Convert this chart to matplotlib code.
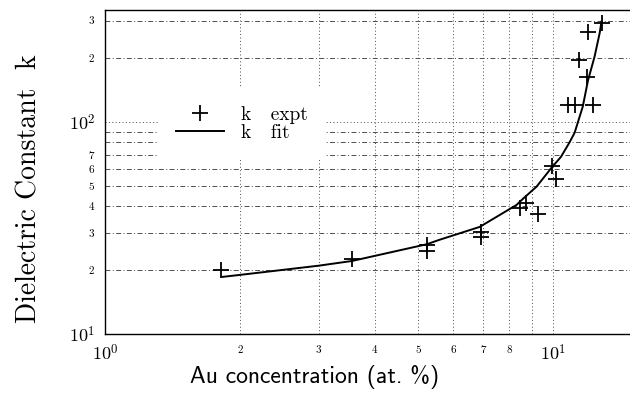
import matplotlib
matplotlib.use("Agg")
import matplotlib.pyplot as plt
from matplotlib.ticker import FixedLocator, FixedFormatter

plt.rcParams['mathtext.fontset'] = 'cm'

# experimental points (Au at.% , k)
exp_x = [1.82, 3.56, 5.23, 5.23, 6.93, 6.93, 8.47, 8.7, 9.25, 9.96, 10.19,
         10.82, 11.2, 12.27, 11.9, 11.45, 11.99, 12.89]
exp_y = [20.0, 22.6, 26.3, 24.7, 30.4, 28.6, 39.2, 41.4, 36.8, 62.2, 53.8,
         120, 120, 120, 162, 196, 266, 294]

# fitted curve
fit_x = [1.83, 2.0, 3.0, 3.56, 5.23, 5.58, 6.87, 8.3, 8.6, 9.2, 9.95, 10.43,
         10.87, 11.19, 11.67, 11.99, 12.4, 12.73, 12.85]
fit_y = [18.6, 19.0, 21.0, 22.1, 26.5, 27.8, 32.0, 40.6, 43.6, 49.5, 61.0,
         68.4, 79.2, 88.8, 118, 157, 203, 262, 297]

x_major = [1, 10]
x_major_labels = ['$10^{0}$', '$10^{1}$']
x_minor = [2, 3, 4, 5, 6, 7, 8, 9]
x_minor_labels = ['2', '3', '4', '5', '6', '7', '8', '']

y_major = [10, 100]
y_major_labels = ['$10^{1}$', '$10^{2}$']
y_minor = [20, 30, 40, 50, 60, 70, 80, 90, 200, 300]
y_minor_labels = ['2', '3', '4', '5', '6', '7', '', '', '2', '3']

fig = plt.figure(figsize=(6.3, 3.93), dpi=100)
ax = fig.add_axes([0.1667, 0.150, 0.8333, 0.8246])
ax.set_xscale('log')
ax.set_yscale('log')
ax.set_xlim(1, 14.88)
ax.set_ylim(10, 337)

gc = '0.3'
ax.xaxis.set_major_locator(FixedLocator(x_major))
ax.xaxis.set_major_formatter(FixedFormatter(x_major_labels))
ax.xaxis.set_minor_locator(FixedLocator(x_minor))
ax.xaxis.set_minor_formatter(FixedFormatter(x_minor_labels))
ax.yaxis.set_major_locator(FixedLocator(y_major))
ax.yaxis.set_major_formatter(FixedFormatter(y_major_labels))
ax.yaxis.set_minor_locator(FixedLocator(y_minor))
ax.yaxis.set_minor_formatter(FixedFormatter(y_minor_labels))

ax.grid(True, axis='x', which='both', linestyle=(0, (1, 2.5)), color=gc, linewidth=0.7)
ax.grid(True, axis='y', which='major', linestyle=(0, (1, 2.5)), color=gc, linewidth=0.7)
ax.grid(True, axis='y', which='minor', linestyle=(0, (5, 2.5, 1, 2.5)), color=gc, linewidth=0.7)

ax.tick_params(which='both', length=0)
ax.tick_params(which='major', labelsize=13, pad=7)
ax.tick_params(which='minor', labelsize=8, pad=8)
for lab in ax.get_xticklabels(minor=True) + ax.get_yticklabels(minor=True):
    lab.set_family('cmr10')

ax.spines['right'].set_visible(False)
for s in ['left', 'bottom', 'top']:
    ax.spines[s].set_linewidth(1.0)

ax.plot(exp_x, exp_y, linestyle='none', marker='+', markersize=12,
        markeredgewidth=1.3, color='black', label='k   expt')
ax.plot(fit_x, fit_y, color='black', linewidth=1.4, label='k   fit')

leg = ax.legend(loc='upper left', bbox_to_anchor=(0.101, 0.758),
                borderaxespad=0, borderpad=0.9, handlelength=2.5,
                handletextpad=0.85, labelspacing=0.0, frameon=True,
                fancybox=False, framealpha=1,
                prop={'family': 'cmr10', 'size': 14})
leg.get_frame().set_edgecolor('none')

ax.set_ylabel('Dielectric Constant  k', family='cmr10', fontsize=20)
ax.yaxis.set_label_coords(-0.12, 0.448)
ax.set_xlabel('Au concentration (at. %)', family='cmss10', fontsize=17)
ax.xaxis.set_label_coords(0.4, -0.095)

fig.savefig('out.png', dpi=100)
